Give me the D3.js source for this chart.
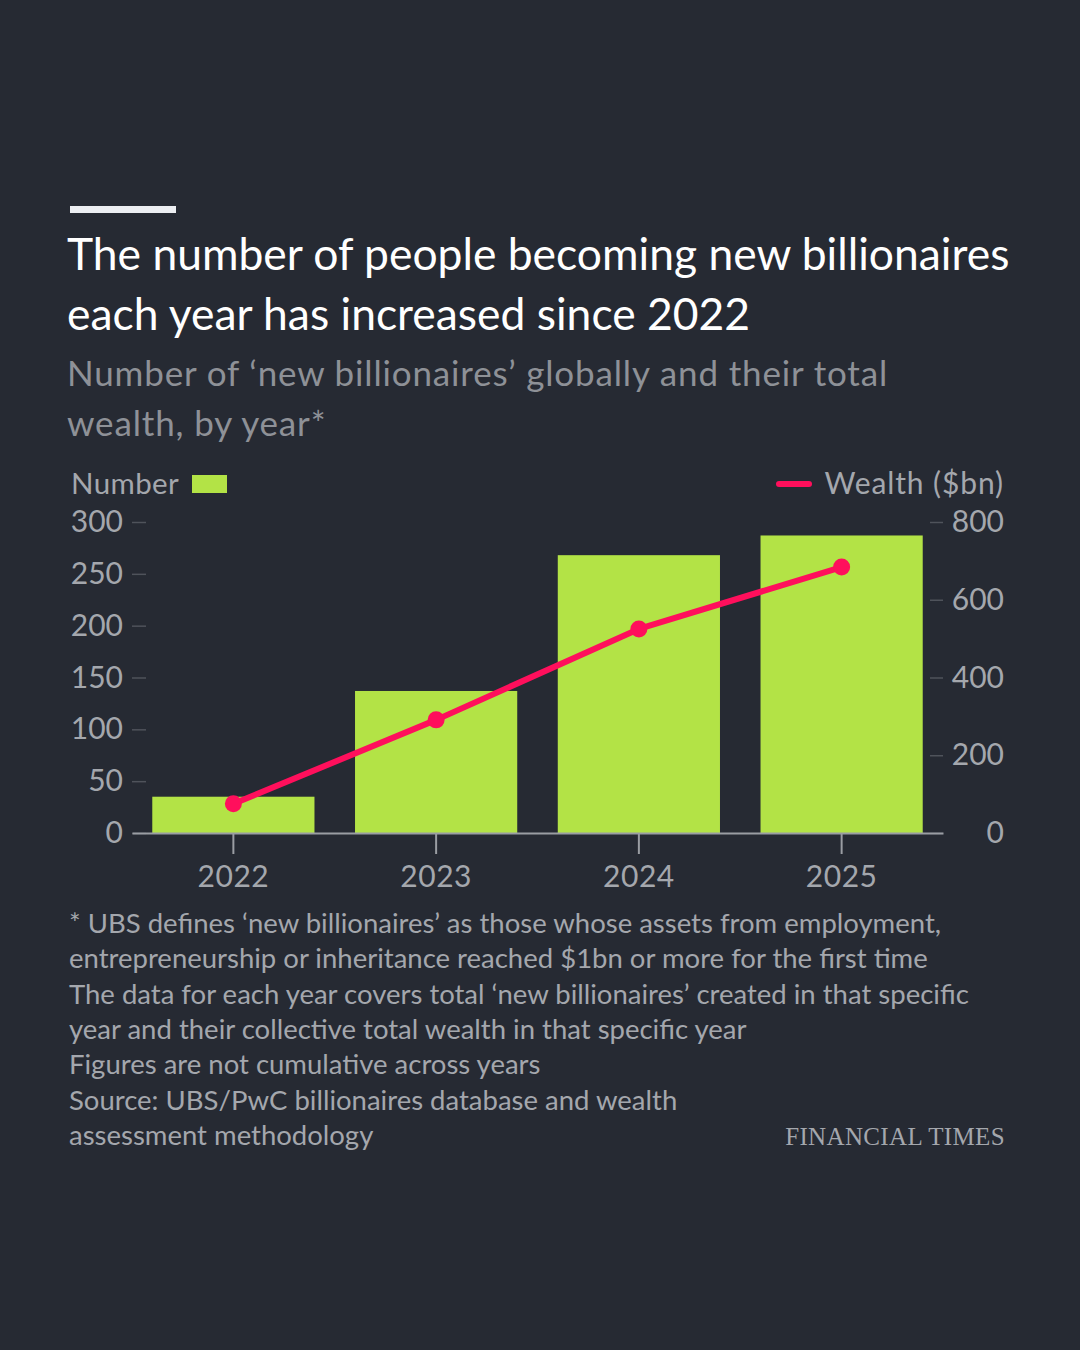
<!DOCTYPE html>
<html>
<head>
<meta charset="utf-8">
<script src="https://cdn.jsdelivr.net/npm/d3@7"></script>
<style>
  html, body { margin: 0; padding: 0; background: #262a33; }
  svg text { font-family: Lato, "Open Sans", sans-serif; }
</style>
</head>
<body>
<div id="chart"></div>
<script>
// data
var years = ["2022", "2023", "2024", "2025"];
var numbers = [35, 137, 268, 287];
var wealth = [75, 291, 525, 684];
var leftTicks = [0, 50, 100, 150, 200, 250, 300];
var rightTicks = [0, 200, 400, 600, 800];

var titleLines = ["The number of people becoming new billionaires", "each year has increased since 2022"];
var subtitleLines = ["Number of \u2018new billionaires\u2019 globally and their total", "wealth, by year*"];
var noteLines = [
  "* UBS defines \u2018new billionaires\u2019 as those whose assets from employment,",
  "entrepreneurship or inheritance reached $1bn or more for the first time",
  "The data for each year covers total \u2018new billionaires\u2019 created in that specific",
  "year and their collective total wealth in that specific year",
  "Figures are not cumulative across years",
  "Source: UBS/PwC billionaires database and wealth",
  "assessment methodology"
];

var W = 1080, H = 1350;
var green = "#b3e346", pink = "#ff0f5c", grey = "#a4a7ad";

var svg = d3.select("#chart").append("svg")
  .attr("width", W)
  .attr("height", H);

svg.append("rect").attr("width", W).attr("height", H).attr("fill", "#262a33");

// header
svg.append("rect")
  .attr("x", 70).attr("y", 206)
  .attr("width", 106).attr("height", 7)
  .attr("fill", "#eceef2");

svg.selectAll(".title")
  .data(titleLines)
  .enter().append("text")
  .attr("class", "title")
  .attr("x", 67)
  .attr("y", (d, i) => 270 + i * 60)
  .attr("fill", "#ffffff")
  .style("font-size", "44.4px")
  .text(d => d);

svg.selectAll(".subtitle")
  .data(subtitleLines)
  .enter().append("text")
  .attr("class", "subtitle")
  .attr("x", 67)
  .attr("y", (d, i) => 386 + i * 50)
  .attr("fill", "#8e9197")
  .style("font-size", "35px")
  .style("letter-spacing", "0.85px")
  .text(d => d);

// scales
var plot = { left: 132, right: 943, top: 522, bottom: 833 };

var x = d3.scaleBand()
  .domain(years)
  .range([plot.left, plot.right])
  .paddingInner(0.2)
  .paddingOuter(0.1);

var yLeft = d3.scaleLinear().domain([0, 300]).range([plot.bottom, plot.top]);
var yRight = d3.scaleLinear().domain([0, 800]).range([plot.bottom, plot.top]);

// left axis
var leftAxis = svg.append("g")
  .attr("transform", `translate(${plot.left + 14}, 0)`)
  .call(d3.axisLeft(yLeft).tickValues(leftTicks).tickSize(14).tickPadding(9));
leftAxis.select(".domain").remove();
leftAxis.selectAll(".tick line").attr("stroke", "#4f535b").attr("stroke-width", 1.5);
leftAxis.selectAll(".tick text")
  .attr("fill", grey)
  .style("font-size", "30px")
  .style("font-family", "Lato, sans-serif");

// right axis, labels right-aligned at the edge
var rightAxis = svg.append("g")
  .attr("transform", `translate(${plot.right - 13}, 0)`)
  .call(d3.axisRight(yRight).tickValues(rightTicks).tickSize(13).tickPadding(8));
rightAxis.select(".domain").remove();
rightAxis.selectAll(".tick line").attr("stroke", "#4f535b").attr("stroke-width", 1.5);
rightAxis.selectAll(".tick text")
  .attr("x", 1004 - (plot.right - 13))
  .attr("text-anchor", "end")
  .attr("fill", grey)
  .style("font-size", "30px")
  .style("font-family", "Lato, sans-serif");

// bars
svg.selectAll(".bar")
  .data(numbers)
  .enter().append("rect")
  .attr("class", "bar")
  .attr("x", (d, i) => x(years[i]))
  .attr("y", d => yLeft(d))
  .attr("width", x.bandwidth())
  .attr("height", d => yLeft(0) - yLeft(d))
  .attr("fill", green);

// x axis
var bottomAxis = svg.append("g")
  .attr("transform", `translate(0, ${plot.bottom})`)
  .call(d3.axisBottom(x).tickSize(21).tickPadding(12).tickSizeOuter(0));
bottomAxis.select(".domain").attr("stroke", "#9a9da3").attr("stroke-width", 2);
bottomAxis.selectAll(".tick line").attr("stroke", "#9a9da3").attr("stroke-width", 2);
bottomAxis.selectAll(".tick text")
  .attr("fill", grey)
  .style("font-size", "30px")
  .style("letter-spacing", "0.5px")
  .style("font-family", "Lato, sans-serif");

// wealth line
var line = d3.line()
  .x((d, i) => x(years[i]) + x.bandwidth() / 2)
  .y(d => yRight(d));

svg.append("path")
  .datum(wealth)
  .attr("d", line)
  .attr("fill", "none")
  .attr("stroke", pink)
  .attr("stroke-width", 6)
  .attr("stroke-linejoin", "round");

svg.selectAll(".dot")
  .data(wealth)
  .enter().append("circle")
  .attr("class", "dot")
  .attr("cx", (d, i) => x(years[i]) + x.bandwidth() / 2)
  .attr("cy", d => yRight(d))
  .attr("r", 8.5)
  .attr("fill", pink);

// legends
svg.append("text")
  .attr("x", 71).attr("y", 494)
  .attr("fill", grey)
  .style("font-size", "29.5px")
  .style("letter-spacing", "0.4px")
  .text("Number");
svg.append("rect")
  .attr("x", 192).attr("y", 475)
  .attr("width", 35).attr("height", 18)
  .attr("fill", green);

svg.append("line")
  .attr("x1", 779).attr("x2", 809)
  .attr("y1", 484).attr("y2", 484)
  .attr("stroke", pink)
  .attr("stroke-width", 6)
  .attr("stroke-linecap", "round");
svg.append("text")
  .attr("x", 1004).attr("y", 494)
  .attr("text-anchor", "end")
  .attr("fill", grey)
  .style("font-size", "30px")
  .style("letter-spacing", "0.9px")
  .text("Wealth ($bn)");

// notes
svg.selectAll(".note")
  .data(noteLines)
  .enter().append("text")
  .attr("class", "note")
  .attr("x", 69)
  .attr("y", (d, i) => 933 + i * 35.3)
  .attr("fill", grey)
  .style("font-size", "27.5px")
  .text(d => d);

svg.append("text")
  .attr("x", 1005).attr("y", 1145)
  .attr("text-anchor", "end")
  .attr("fill", grey)
  .style("font-family", "'Liberation Serif', 'DejaVu Serif', serif")
  .style("font-size", "25px")
  .style("letter-spacing", "0.35px")
  .text("FINANCIAL TIMES");
</script>
</body>
</html>
